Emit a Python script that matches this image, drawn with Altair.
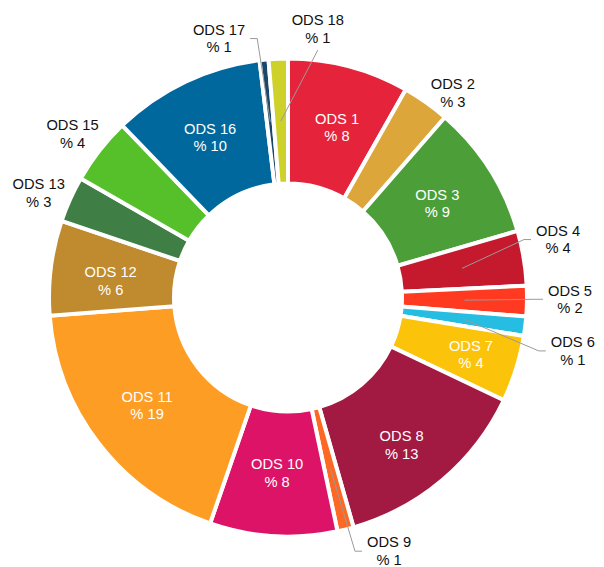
import math
import altair as alt
import pandas as pd

# ---- data ----
names = ["ODS 1", "ODS 2", "ODS 3", "ODS 4", "ODS 5", "ODS 6", "ODS 7", "ODS 8",
         "ODS 9", "ODS 10", "ODS 11", "ODS 12", "ODS 13", "ODS 15", "ODS 16",
         "ODS 17", "ODS 18"]
values = [8.2, 3.2, 9.1, 3.7, 2.06, 1.3, 4.5, 13.5, 1.1, 8.6, 18.5, 6.4, 3.1,
          4.5, 10.3, 0.6, 1.3]
pct_text = [8, 3, 9, 4, 2, 1, 4, 13, 1, 8, 19, 6, 3, 4, 10, 1, 1]
colors = ["#E5243B", "#DDA63A", "#4C9F38", "#C5192D", "#FF3A21", "#26BDE2",
          "#FCC30B", "#A21942", "#FD6925", "#DD1367", "#FD9D24", "#BF8B2E",
          "#3F7E44", "#56C02B", "#00689D", "#19486A", "#CFD12B"]

# ---- layout (styling) ----
W, H = 560, 579
R_OUT, R_IN = 239, 114
R_LABEL = 176.5
FS = 14.7
LH = 17.5
FONT = "Liberation Sans"
# outside labels: angle nudge (deg), label radius, connector type
outside = {
    "ODS 2": (3.7, 262, None),
    "ODS 4": (-2.4, 276, "right"),
    "ODS 5": (-0.3, 282, "right"),
    "ODS 6": (3.9, 290, "right"),
    "ODS 9": (-7.7, 274, "right"),
    "ODS 13": (-1.7, 270, None),
    "ODS 15": (-0.9, 270, None),
    "ODS 17": (-9.2, 267, "left"),
    "ODS 18": (8.7, 269, "below"),
}
# inside labels: angle nudge (deg), label radius (fit inside the slice)
inside = {
    "ODS 1": (1.4, 176),
    "ODS 3": (0.6, 176),
    "ODS 7": (0.3, 192),
    "ODS 8": (2.8, 187),
    "ODS 10": (0.0, 177),
    "ODS 11": (0.0, 178),
    "ODS 12": (-2.2, 178),
    "ODS 16": (-0.7, 177),
}

total = sum(values)
rows, lrows = [], []
cum = 0.0
for i, (n, v, p, c) in enumerate(zip(names, values, pct_text, colors)):
    mid = (cum + v / 2) / total * 2 * math.pi
    cum += v
    label = f"{n}\n% {p}"
    if n in outside:
        dth, r, kind = outside[n]
        th = mid + math.radians(dth)
        lx, ly = r * math.sin(th), -r * math.cos(th)
        inner = False
        digits = len(n.split()[1])
        hw = FS * (2.445 + 0.556 * digits) / 2
        sx, sy = R_LABEL * math.sin(mid), -R_LABEL * math.cos(mid)
        pts = None
        if kind == "right":
            ex, ey = lx - hw - 5, ly - 1
            pts = [(sx, sy), (ex - 7, ey), (ex, ey)]
        elif kind == "left":
            ex, ey = lx + hw + 5, ly - 1
            pts = [(sx, sy), (ex + 7, ey), (ex, ey)]
        elif kind == "below":
            pts = [(sx, sy), (lx, ly + 20)]
        if pts:
            for k, (px, py) in enumerate(pts):
                lrows.append({"name": n, "seq": k, "x": px, "y": py})
    else:
        dth, r = inside.get(n, (0.0, R_LABEL))
        th = mid + math.radians(dth)
        lx, ly = r * math.sin(th), -r * math.cos(th)
        inner = True
    rows.append({"name": n, "idx": i, "value": v, "label": label,
                 "lx": lx, "ly": ly, "inner": inner})

df = pd.DataFrame(rows)
lines_df = pd.DataFrame(lrows)

xs = alt.Scale(domain=[-W / 2, W / 2])
ys = alt.Scale(domain=[-H / 2, H / 2], reverse=True)

arcs = alt.Chart(df).mark_arc(
    innerRadius=R_IN, outerRadius=R_OUT, stroke="white", strokeWidth=4
).encode(
    theta=alt.Theta("value:Q", stack=True),
    order=alt.Order("idx:Q"),
    color=alt.Color("name:N", scale=alt.Scale(domain=names, range=colors),
                    legend=None, sort=None),
)

leaders = alt.Chart(lines_df).mark_line(color="#9a9a9a", strokeWidth=1).encode(
    x=alt.X("x:Q", scale=xs, axis=None),
    y=alt.Y("y:Q", scale=ys, axis=None),
    detail="name:N",
    order="seq:Q",
)

inner_txt = alt.Chart(df[df["inner"]]).mark_text(
    font=FONT, fontSize=FS, color="white", lineBreak="\n", lineHeight=LH,
    align="center", baseline="middle", dy=-LH / 2
).encode(
    x=alt.X("lx:Q", scale=xs, axis=None),
    y=alt.Y("ly:Q", scale=ys, axis=None),
    text="label:N",
)

outer_txt = alt.Chart(df[~df["inner"]]).mark_text(
    font=FONT, fontSize=FS, color="#111111", lineBreak="\n", lineHeight=LH,
    align="center", baseline="middle", dy=-LH / 2
).encode(
    x=alt.X("lx:Q", scale=xs, axis=None),
    y=alt.Y("ly:Q", scale=ys, axis=None),
    text="label:N",
)

chart = alt.layer(arcs, leaders, inner_txt, outer_txt).properties(
    width=W, height=H,
    autosize=alt.AutoSizeParams(type="none"),
    padding={"left": 0, "top": 0, "right": 28, "bottom": 0},
).configure_view(strokeWidth=0)

chart.save("out.html", embed_options={"renderer": "svg", "actions": False})
